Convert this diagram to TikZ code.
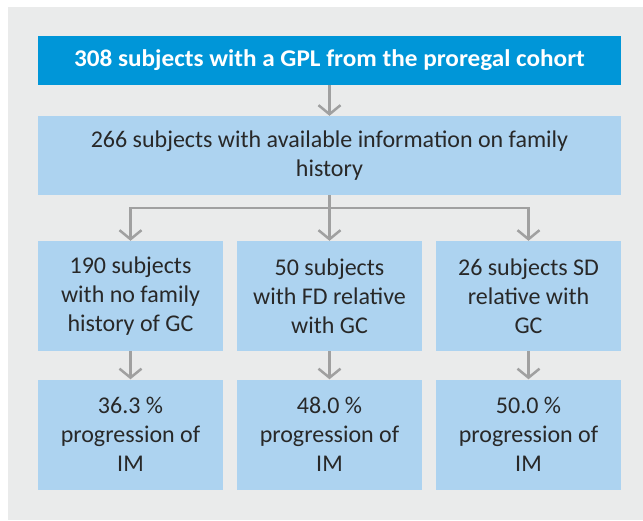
\documentclass[tikz,border=0pt]{standalone}
\usepackage{fontspec}
\setmainfont{Carlito}
\newfontfamily\topfont[FakeStretch=1.05]{Carlito}
\usetikzlibrary{arrows.meta}
\definecolor{bg}{RGB}{234,235,235}
\definecolor{topblue}{RGB}{0,150,216}
\definecolor{lightblue}{RGB}{173,211,240}
\definecolor{txt}{RGB}{40,40,40}
\definecolor{conngray}{RGB}{160,160,160}
\tikzset{
  box/.style={rectangle, fill=lightblue, inner sep=0pt, align=center, text=txt,
    font=\fontsize{24}{29}\selectfont},
  topbox/.style={rectangle, fill=topblue, inner sep=0pt, align=center, text=white,
    font=\topfont\fontsize{24}{29}\selectfont\bfseries, minimum width=583pt, minimum height=49pt},
  widebox/.style={box, minimum width=583pt, minimum height=79pt},
  smallbox/.style={box, minimum width=185pt, minimum height=110pt},
  link/.style={draw=conngray, line width=2.5pt},
  conn/.style={link, -{Straight Barb[length=9pt,width=22pt,line width=2.5pt]}}
}
\begin{document}
\begin{tikzpicture}[x=1pt,y=-1pt]
\useasboundingbox (0,0) rectangle (643,520);
\fill[bg] (8,7) rectangle (643,520);
\node[topbox] (top) at (329.5,60.5) {308 subjects with a GPL from the proregal cohort};
\node[widebox] (fam) at (329.5,155.5) {266 subjects with available information on family\\history};
\node[smallbox] (a1) at (130.5,296) {190 subjects\\with no family\\history of GC};
\node[smallbox] (a2) at (329.5,296) {50 subjects\\with FD relative\\with GC};
\node[smallbox] (a3) at (528.5,296) {26 subjects SD\\relative with\\GC};
\node[smallbox] (b1) at (130.5,434.5) {36.3~\%\\progression of\\IM};
\node[smallbox] (b2) at (329.5,434.5) {48.0~\%\\progression of\\IM};
\node[smallbox] (b3) at (528.5,434.5) {50.0~\%\\progression of\\IM};
\coordinate (j) at (329.5,208);
\draw[conn] (top.south) -- (fam.north);
\draw[link] (fam.south) -- (j);
\draw[conn] (j) -| (a1.north);
\draw[conn] (j) -- (a2.north);
\draw[conn] (j) -| (a3.north);
\draw[conn] (a1.south) -- (b1.north);
\draw[conn] (a2.south) -- (b2.north);
\draw[conn] (a3.south) -- (b3.north);
\end{tikzpicture}
\end{document}
